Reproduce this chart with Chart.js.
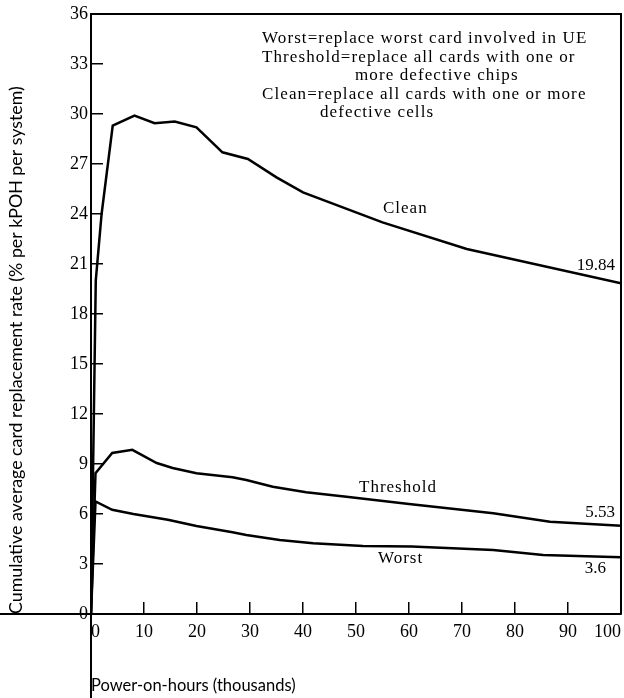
<!DOCTYPE html>
<html><head><meta charset="utf-8">
<script src="https://cdn.jsdelivr.net/npm/chart.js@4/dist/chart.umd.min.js"></script>
<style>html,body{margin:0;padding:0;background:#fff}#wrap{width:624px;height:698px}</style>
</head><body><div id="wrap"><canvas id="c" width="624" height="698"></canvas></div>
<script>
const xTickValues = [0, 10, 20, 30, 40, 50, 60, 70, 80, 90, 100];
const yTickValues = [0, 3, 6, 9, 12, 15, 18, 21, 24, 27, 30, 33, 36];

const cleanHours = [0, 0.9, 2, 4.1, 8.2, 12, 15.8, 19.9, 24.8, 29.6, 35, 40, 55, 70.9, 100];
const cleanRate  = [0, 20, 24, 29.3, 29.9, 29.45, 29.55, 29.2, 27.7, 27.3, 26.2, 25.3, 23.5, 21.9, 19.84];

const thresholdHours = [0, 0.85, 4, 7.8, 12.4, 15.4, 19.9, 26.7, 29.3, 34.3, 40.6, 48.2, 60, 75.9, 86.6, 100];
const thresholdRate  = [0, 8.45, 9.66, 9.85, 9.06, 8.76, 8.44, 8.2, 8.04, 7.64, 7.3, 7.04, 6.6, 6.04, 5.54, 5.3];

const worstHours = [0, 0.85, 4, 8, 14.5, 19.9, 26.7, 29.3, 35.6, 41.9, 51.3, 60.5, 75.9, 85.3, 100];
const worstRate  = [0, 6.75, 6.25, 6.0, 5.65, 5.28, 4.9, 4.74, 4.44, 4.24, 4.08, 4.05, 3.84, 3.54, 3.4];

const seriesNames = ['Clean', 'Threshold', 'Worst'];
const endValueLabels = ['19.84', '5.53', '3.6'];
const legendLines = [
  'Worst=replace worst card involved in UE',
  'Threshold=replace all cards with one or',
  'more defective chips',
  'Clean=replace all cards with one or more',
  'defective cells'
];

function pts(xs, ys) { return xs.map((x, i) => ({x: x, y: ys[i]})); }

const lineStyle = {borderColor: '#000', borderWidth: 2.5, pointRadius: 0, tension: 0, fill: false};

const decor = {
  id: 'decor',
  afterDraw(chart) {
    const ctx = chart.ctx, a = chart.chartArea;
    ctx.save();
    ctx.strokeStyle = '#000';
    ctx.lineWidth = 2;
    ctx.beginPath();
    ctx.moveTo(a.left, a.top); ctx.lineTo(a.right, a.top); ctx.lineTo(a.right, a.bottom);
    ctx.moveTo(0, a.bottom); ctx.lineTo(a.left, a.bottom);
    ctx.moveTo(a.left, a.bottom); ctx.lineTo(a.left, chart.height);
    ctx.stroke();

    ctx.fillStyle = '#000';
    ctx.textBaseline = 'alphabetic';
    ctx.textAlign = 'left';
    ctx.font = '17px "Liberation Serif"';
    ctx.letterSpacing = '1.1px';
    const lx = [262, 262, 355, 262, 320];
    const ly = [43, 61.5, 80, 99, 117];
    legendLines.forEach((t, i) => ctx.fillText(t, lx[i], ly[i]));

    ctx.letterSpacing = '1px';
    ctx.fillText(seriesNames[0], 383, 213);
    ctx.fillText(seriesNames[1], 359, 492);
    ctx.fillText(seriesNames[2], 378, 563);
    ctx.letterSpacing = '0px';
    ctx.textAlign = 'right';
    ctx.fillText(endValueLabels[0], 615, 270);
    ctx.fillText(endValueLabels[1], 615, 517);
    ctx.fillText(endValueLabels[2], 606, 573);
    ctx.restore();
  }
};

new Chart(document.getElementById('c'), {
  type: 'line',
  data: {
    datasets: [
      Object.assign({label: seriesNames[0], data: pts(cleanHours, cleanRate)}, lineStyle),
      Object.assign({label: seriesNames[1], data: pts(thresholdHours, thresholdRate)}, lineStyle),
      Object.assign({label: seriesNames[2], data: pts(worstHours, worstRate)}, lineStyle)
    ]
  },
  options: {
    responsive: false,
    animation: false,
    events: [],
    layout: {padding: {top: 14, right: 3, left: 0, bottom: 0}},
    plugins: {legend: {display: false}, tooltip: {enabled: false}},
    scales: {
      x: {
        type: 'linear', min: 0, max: 100,
        afterBuildTicks: s => { s.ticks = xTickValues.map(v => ({value: v})); },
        afterFit: s => { s.height = 84; s.paddingLeft = 0; s.paddingRight = 0; },
        border: {color: '#000', width: 2},
        grid: {drawOnChartArea: false, drawTicks: true, tickLength: -12, color: '#000', lineWidth: 1.5},
        ticks: {color: '#000', font: {family: 'Liberation Serif', size: 18}, padding: 19, align: 'inner', maxRotation: 0, autoSkip: false},
        title: {display: true, text: 'Power-on-hours (thousands)', align: 'start', color: '#000',
                font: {family: 'Lato', size: 16.5}, padding: {top: 0, bottom: 2}}
      },
      y: {
        type: 'linear', min: 0, max: 36,
        afterBuildTicks: s => { s.ticks = yTickValues.map(v => ({value: v})); },
        afterFit: s => { s.width = 91; s.paddingTop = 0; s.paddingBottom = 0; },
        border: {color: '#000', width: 2},
        grid: {drawOnChartArea: false, drawTicks: true, tickLength: -12, color: '#000', lineWidth: 1.5},
        ticks: {color: '#000', font: {family: 'Liberation Serif', size: 18}, padding: 15, autoSkip: false},
        title: {display: true, text: 'Cumulative average card replacement rate (% per kPOH per system)', align: 'start',
                color: '#000', font: {family: 'Lato', size: 17.8}, padding: {top: 6, bottom: 0}}
      }
    }
  },
  plugins: [decor]
});
</script>
</body></html>
